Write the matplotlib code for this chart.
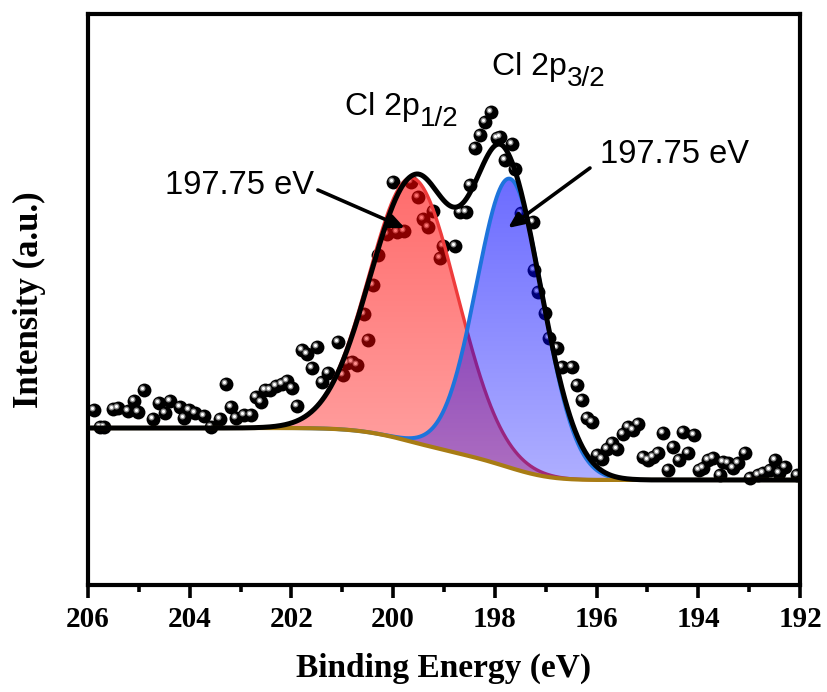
import numpy as np
import matplotlib
matplotlib.use("Agg")
import matplotlib.pyplot as plt
import matplotlib.colors as mcolors
from matplotlib.transforms import offset_copy

plt.rcParams["font.family"] = ["Liberation Sans", "DejaVu Sans"]

# Measured spectrum (binding energy in eV, intensity in a.u.)
energy = [205.88, 205.76, 205.69, 205.51, 205.41, 205.21, 205.10, 205.02, 204.90, 204.72,
          204.60, 204.49, 204.39, 204.19, 204.11, 204.01, 203.90, 203.72, 203.58, 203.40,
          203.29, 203.19, 203.09, 202.93, 202.80, 202.70, 202.60, 202.52, 202.42, 202.30,
          202.19, 202.09, 201.99, 201.89, 201.79, 201.69, 201.60, 201.50, 201.40, 201.28,
          201.08, 200.99, 200.91, 200.81, 200.71, 200.49, 200.57, 200.40, 200.30, 200.12,
          200.00, 199.92, 199.79, 199.65, 199.51, 199.41, 199.32, 199.22, 199.08, 199.02,
          198.78, 198.69, 198.57, 198.49, 198.39, 198.29, 198.19, 198.08, 197.96, 197.90,
          197.66, 197.80, 197.60, 197.49, 197.25, 197.23, 197.15, 197.01, 196.94, 196.78,
          196.68, 196.48, 196.39, 196.29, 196.19, 196.09, 195.99, 195.89, 195.80, 195.70,
          195.60, 195.48, 195.38, 195.28, 195.19, 195.09, 194.99, 194.89, 194.79, 194.69,
          194.60, 194.50, 194.38, 194.30, 194.09, 194.20, 193.99, 193.91, 193.81, 193.71,
          193.57, 193.52, 193.42, 193.32, 193.22, 193.08, 192.98, 192.83, 192.73, 192.59,
          192.49, 192.41, 192.30, 192.06]
intensity = [175, 158, 158, 176, 177, 174, 184, 173, 195, 166,
             182, 172, 184, 178, 167, 175, 172, 169, 158, 166,
             201, 178, 167, 170, 170, 188, 183, 195, 195, 199,
             201, 204, 197, 179, 235, 231, 217, 238, 203, 212,
             243, 210, 222, 223, 220, 245, 271, 300, 330, 351,
             403, 353, 354, 403, 388, 366, 358, 374, 327, 339,
             339, 373, 373, 400, 437, 450, 463, 473, 447, 448,
             441, 425, 416, 372, 363, 315, 293, 272, 247, 237,
             218, 218, 200, 185, 167, 163, 130, 126, 136, 142,
             136, 151, 158, 155, 161, 128, 125, 128, 132, 152,
             115, 138, 125, 153, 150, 132, 115, 117, 125, 127,
             110, 123, 122, 117, 122, 132, 107, 110, 112, 115,
             125, 112, 118, 110]

# Fitted components: center (eV), height, HWHM on high / low energy side
peak_center = [199.61, 197.70]
peak_height = [264, 289]
peak_hw_high = [1.00, 0.77]
peak_hw_low = [1.02, 0.77]

# Envelope (cumulative fit) parameters
env_center = [199.57, 197.80]
env_height = [262, 300]
env_hw_high = [1.02, 0.75]
env_hw_low = [0.90, 0.85]

# Shirley background end levels
bg_high = 157
bg_low = 105

x = np.linspace(192, 206, 1400)


def split_gauss(x, c, h, w_hi, w_lo):
    w = np.where(x > c, w_hi, w_lo)
    return h * np.exp(-np.log(2) * ((x - c) / w) ** 2)


comps = [split_gauss(x, c, h, a, b) for c, h, a, b in
         zip(peak_center, peak_height, peak_hw_high, peak_hw_low)]
total = comps[0] + comps[1]
cum = np.concatenate([[0], np.cumsum((total[1:] + total[:-1]) / 2 * np.diff(x))])
bg = bg_low + (bg_high - bg_low) * cum / cum[-1]

env = bg.copy()
for c, h, a, b in zip(env_center, env_height, env_hw_high, env_hw_low):
    env += split_gauss(x, c, h, a, b)

fig = plt.figure(figsize=(8.28, 6.92), dpi=100)
ax = fig.add_axes([0.1063, 0.1546, 0.8599, 0.8252])


def gradient_fill(ax, x, top, base, color, a_top, a_bot, z):
    poly = ax.fill_between(x, base, top, facecolor="none", edgecolor="none", zorder=z)
    grad = np.zeros((256, 1, 4))
    grad[:, :, :3] = mcolors.to_rgb(color)
    grad[:, 0, 3] = np.linspace(a_bot, a_top, 256)
    im = ax.imshow(grad, extent=[x.min(), x.max(), base.min(), top.max()],
                   origin="lower", aspect="auto", interpolation="bilinear", zorder=z)
    im.set_clip_path(poly.get_paths()[0], transform=ax.transData)


# data points as shaded spheres
ax.scatter(energy, intensity, s=100, color="black", zorder=2, linewidths=0)
hl = offset_copy(ax.transData, fig=fig, x=-1.3, y=1.3, units="points")
ax.scatter(energy, intensity, s=18, color="#8c8c8c", zorder=2.1, linewidths=0, transform=hl)
ax.scatter(energy, intensity, s=5, color="white", zorder=2.2, linewidths=0, transform=hl)

red_top = bg + comps[0]
blue_top = bg + comps[1]
gradient_fill(ax, x, red_top, bg, "#ff0000", 0.58, 0.36, 3)
ax.plot(x, red_top, color="#ee3b3b", lw=2.4, zorder=3.5)
gradient_fill(ax, x, blue_top, bg, "#0000ff", 0.58, 0.32, 4)
ax.plot(x, blue_top, color="#1e74dc", lw=2.8, zorder=4.5)
ax.plot(x, bg, color="#a87c14", lw=3.0, zorder=5)
ax.plot(x, env, color="black", lw=3.6, zorder=6)

# peak labels: main text ends where the subscript starts
ax.text(199.47, 478, "Cl 2p", fontsize=23, ha="right", va="center", zorder=7)
ax.text(199.47, 466, "1/2", fontsize=20, ha="left", va="center", zorder=7)
ax.text(196.58, 518, "Cl 2p", fontsize=23, ha="right", va="center", zorder=7)
ax.text(196.58, 506, "3/2", fontsize=20, ha="left", va="center", zorder=7)
ax.text(201.56, 399, "197.75 eV", fontsize=23.5, ha="right", va="center", zorder=7)
ax.text(195.93, 430, "197.75 eV", fontsize=23.5, ha="left", va="center", zorder=7)
arrow = dict(arrowstyle="-|>,head_length=0.9,head_width=0.4", color="black", lw=2.6,
             shrinkA=0, shrinkB=0)
ax.annotate("", xy=(199.77, 357), xytext=(201.48, 395), arrowprops=arrow, zorder=8)
ax.annotate("", xy=(197.74, 357), xytext=(196.13, 417), arrowprops=arrow, zorder=8)

ax.set_xlim(206, 192)
ax.set_ylim(0, 571)
ax.set_xticks(np.arange(192, 207, 2))
ax.set_xticks(np.arange(193, 206, 2), minor=True)
ax.set_yticks([])
for s in ax.spines.values():
    s.set_linewidth(3)
ax.tick_params(axis="x", which="major", direction="out", length=9, width=2.6, pad=6)
ax.tick_params(axis="x", which="minor", direction="out", length=5, width=2.6)
for lab in ax.get_xticklabels():
    lab.set_fontfamily("Liberation Serif")
    lab.set_fontweight("bold")
    lab.set_fontsize(21)
ax.set_xlabel("Binding Energy (eV)", fontfamily="Liberation Serif", fontweight="bold",
              fontsize=24, labelpad=14)
ax.set_ylabel("Intensity (a.u.)", fontfamily="Liberation Serif", fontweight="bold",
              fontsize=25, labelpad=30)

fig.savefig("out.png", dpi=100)
